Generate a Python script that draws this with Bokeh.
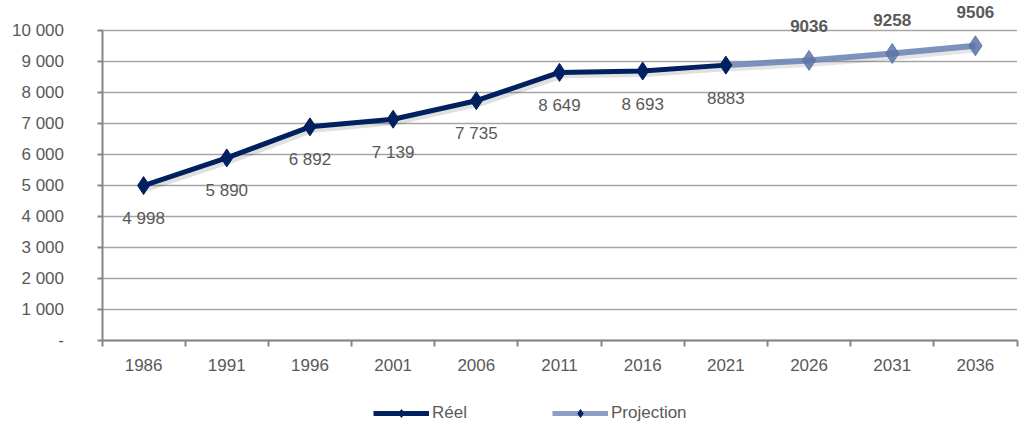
from bokeh.plotting import figure
from bokeh.models import FixedTicker, ColumnDataSource, Legend, LegendItem, Range1d
from bokeh.core.properties import value
from bokeh.embed import file_html
from bokeh.resources import INLINE

# Census years and population
years = ["1986", "1991", "1996", "2001", "2006", "2011", "2016", "2021", "2026", "2031", "2036"]
reel_years = ["1986", "1991", "1996", "2001", "2006", "2011", "2016", "2021"]
reel_values = [4998, 5890, 6892, 7139, 7735, 8649, 8693, 8883]
reel_labels = ["4 998", "5 890", "6 892", "7 139", "7 735", "8 649", "8 693", "8883"]
proj_years = ["2021", "2026", "2031", "2036"]
proj_values = [8883, 9036, 9258, 9506]
proj_labels = ["9036", "9258", "9506"]
y_ticks = [0, 1000, 2000, 3000, 4000, 5000, 6000, 7000, 8000, 9000, 10000]
y_tick_labels = ["-", "1 000", "2 000", "3 000", "4 000", "5 000", "6 000", "7 000", "8 000", "9 000", "10 000"]

FONT = "Liberation Sans"
GREY_TEXT = "#595959"
AXIS_GREY = "#868686"
NAVY = "#002060"
PROJ = "#6F86B5"

W, H = 1027, 427
# Plot box in pixels: axes meet at (101.5, 340); top of the value axis at y=30
LEFT, RIGHT, BOTTOM, TOP = 101.5, 1016.5, 340.0, 30.0
n = len(years)
ymax = y_ticks[-1]
band = (RIGHT - LEFT) / n
unit = (BOTTOM - TOP) / ymax

idx = {y: i for i, y in enumerate(years)}

x_range = Range1d(-0.5 - LEFT / band, -0.5 + (W - LEFT) / band)
y_range = Range1d(-(H - BOTTOM) / unit, BOTTOM / unit)

p = figure(width=W, height=H, output_backend="svg", toolbar_location=None,
           x_range=x_range, y_range=y_range,
           min_border_left=0, min_border_right=0, min_border_top=0, min_border_bottom=0)
p.outline_line_color = None
p.background_fill_color = "white"
p.xgrid.grid_line_color = None
p.ygrid.grid_line_color = None

# Horizontal gridlines across the category bands
p.segment(x0=[-0.5] * len(y_ticks), x1=[n - 0.5] * len(y_ticks), y0=y_ticks, y1=y_ticks,
          line_color="#A6A6A6", line_width=1.5)

# X axis: labels at category centres, ticks at band edges
xa = p.xaxis[0]
xa.fixed_location = 0
xa.bounds = (-0.5, n - 0.5)
xa.ticker = FixedTicker(ticks=list(range(n)), minor_ticks=[i - 0.5 for i in range(n + 1)])
xa.major_label_overrides = {i: y for i, y in enumerate(years)}
xa.major_tick_line_color = None
xa.minor_tick_line_color = AXIS_GREY
xa.minor_tick_line_width = 2
xa.minor_tick_out = 6
xa.minor_tick_in = 0
xa.axis_line_color = AXIS_GREY
xa.axis_line_width = 2
xa.major_label_text_font = FONT
xa.major_label_text_font_size = "17px"
xa.major_label_text_color = GREY_TEXT
xa.major_label_standoff = 12

# Y axis
ya = p.yaxis[0]
ya.fixed_location = -0.5
ya.bounds = (0, ymax)
ya.ticker = FixedTicker(ticks=y_ticks, minor_ticks=[])
ya.major_label_overrides = {t: l for t, l in zip(y_ticks, y_tick_labels)}
ya.axis_line_color = AXIS_GREY
ya.axis_line_width = 2
ya.major_tick_line_color = AXIS_GREY
ya.major_tick_line_width = 2
ya.major_tick_out = 5
ya.major_tick_in = 0
ya.major_label_text_font = FONT
ya.major_label_text_font_size = "17px"
ya.major_label_text_color = GREY_TEXT
ya.major_label_standoff = 33

reel_src = ColumnDataSource(dict(x=[idx[y] for y in reel_years], y=reel_values, label=reel_labels))
proj_src = ColumnDataSource(dict(x=[idx[y] for y in proj_years], y=proj_values))
proj_lbl_src = ColumnDataSource(dict(x=[idx[y] for y in proj_years[1:]], y=proj_values[1:], label=proj_labels))

# Soft drop shadows
p.line([x + 0.04 for x in proj_src.data["x"]], [v - 110 for v in proj_values],
       line_color="#000000", line_alpha=0.10, line_width=6)
p.line([x + 0.04 for x in reel_src.data["x"]], [v - 110 for v in reel_values],
       line_color="#000000", line_alpha=0.12, line_width=5)

# Projection series
p.line("x", "y", source=proj_src, line_color=PROJ, line_width=6, line_alpha=0.9)
p.scatter("x", "y", source=proj_lbl_src, marker="diamond", size=20,
          fill_color="#5A73A6", line_color="#5A73A6", fill_alpha=0.85, line_alpha=0.85)

# Observed series
p.line("x", "y", source=reel_src, line_color=NAVY, line_width=5)
p.scatter("x", "y", source=reel_src, marker="diamond", size=18, fill_color=NAVY, line_color=NAVY)

# Value labels
p.text("x", "y", text="label", source=reel_src, y_offset=33, text_align="center",
       text_baseline="middle", text_font=value(FONT), text_font_size="17px", text_color=GREY_TEXT)
p.text("x", "y", text="label", source=proj_lbl_src, y_offset=-34, text_align="center",
       text_baseline="middle", text_font=value(FONT), text_font_size="17px",
       text_font_style="bold", text_color=GREY_TEXT)

# Legend swatches (NaN points: nothing is drawn in the plot, only in the legend)
nan = float("nan")
lr_line = p.line(x=[nan], y=[nan], line_color=NAVY, line_width=5)
lr_mark = p.scatter(x=[nan], y=[nan], marker="diamond", size=10, fill_color=NAVY, line_color=NAVY)
lp_line = p.line(x=[nan], y=[nan], line_color="#8E9DC2", line_width=5)
lp_mark = p.scatter(x=[nan], y=[nan], marker="diamond", size=10, fill_color=NAVY, line_color=NAVY)

legend = Legend(items=[LegendItem(label="Réel", renderers=[lr_line, lr_mark]),
                       LegendItem(label="Projection", renderers=[lp_line, lp_mark])],
                orientation="horizontal", location=(373, 4),
                glyph_width=56, glyph_height=20, label_standoff=3, spacing=85,
                label_text_font=FONT, label_text_font_size="17px", label_text_color=GREY_TEXT,
                border_line_color=None, background_fill_alpha=0, padding=0, margin=0)
p.add_layout(legend, "center")

open("out.html", "w").write(file_html(p, INLINE))
